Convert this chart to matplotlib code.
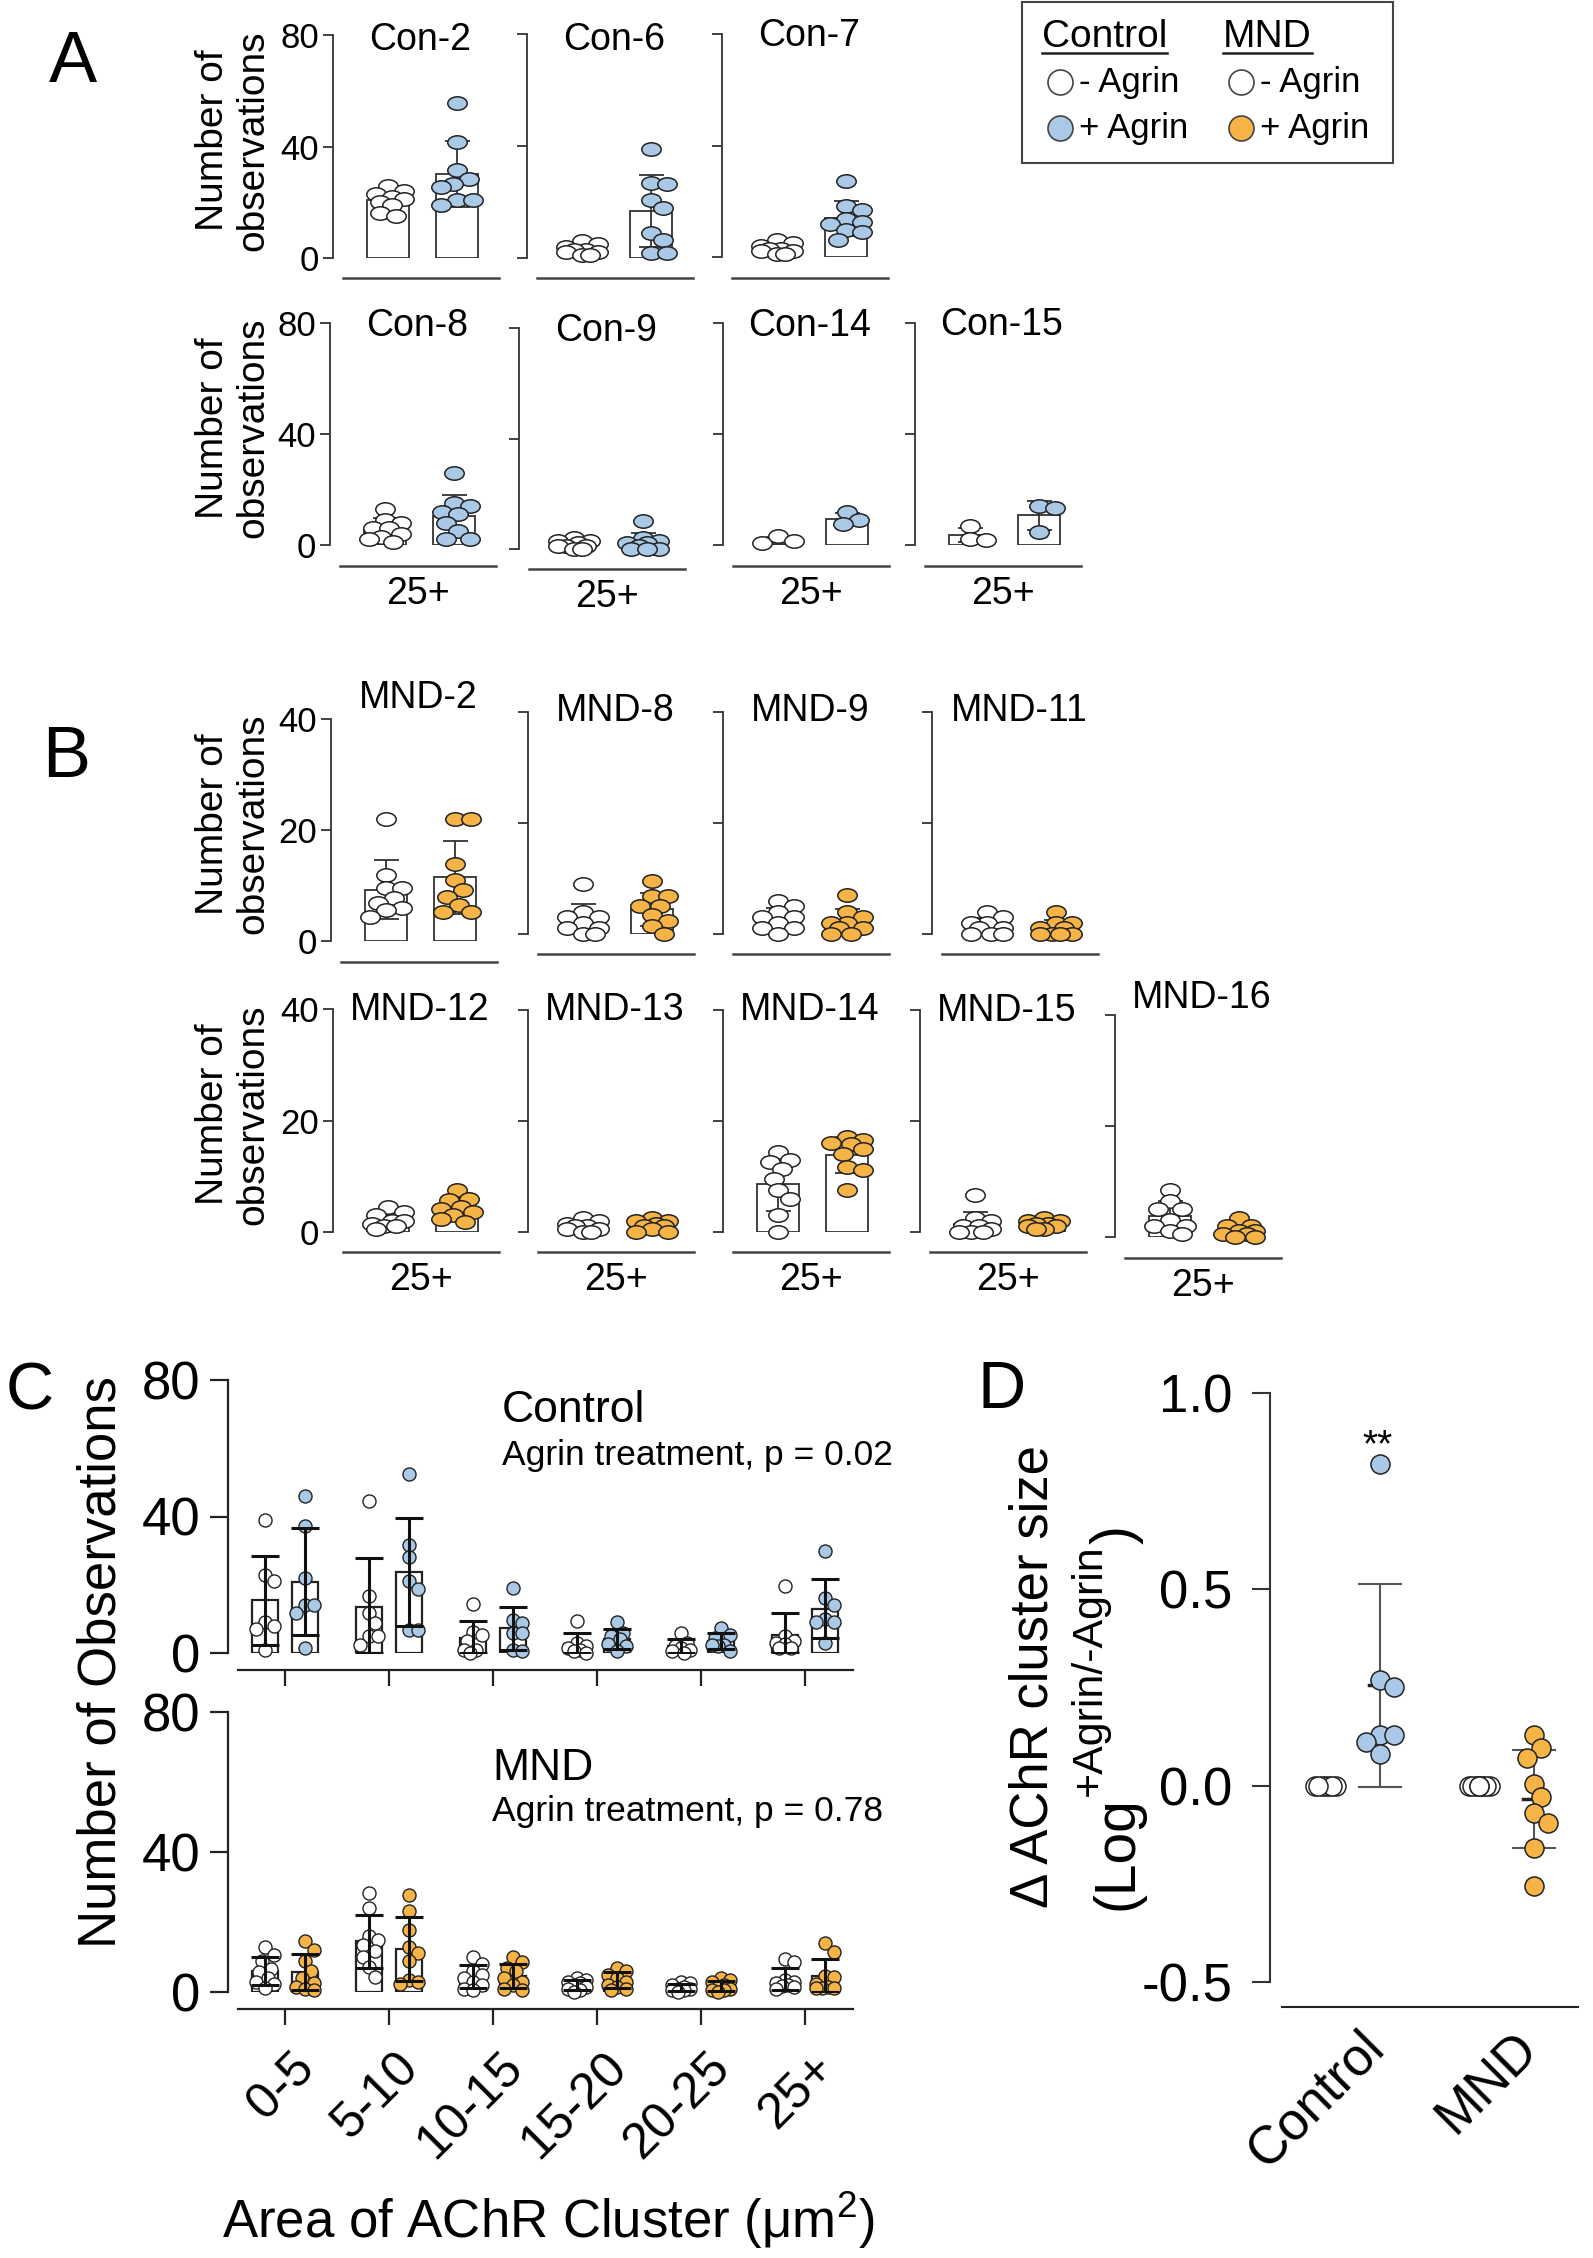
import numpy as np
import matplotlib
matplotlib.use('Agg')
import matplotlib.pyplot as plt
from matplotlib.patches import Rectangle
from matplotlib.path import Path
from matplotlib.transforms import ScaledTranslation, blended_transform_factory

plt.rcParams['font.family'] = ['Liberation Sans', 'DejaVu Sans']
plt.rcParams['mathtext.fontset'] = 'custom'
plt.rcParams['mathtext.rm'] = 'Liberation Sans'
plt.rcParams['mathtext.it'] = 'Liberation Sans:italic'

W, H = 1593, 2258

CON_AGRIN = '#a9c9e7'
MND_AGRIN = '#f7b446'
INK = '#222222'

# ---------------- A: control donors, 25+ bin ----------------
con_names = ['Con-2', 'Con-6', 'Con-7', 'Con-8', 'Con-9', 'Con-14', 'Con-15']
con_minus = [
    [26, 24, 23, 22, 21, 20, 19, 16, 15],
    [6, 5, 4, 3, 3, 2, 2, 1, 1],
    [6, 5, 4, 3, 3, 2, 2, 1, 1],
    [13, 9, 8, 6, 6, 4, 3, 2, 1],
    [4, 3, 3, 2, 1, 1, 1, 0, 0],
    [0.7, 3.1, 1.3],
    [6.7, 2.2, 1.9],
]
con_plus = [
    [55.7, 41.7, 31.7, 28.5, 26.7, 25.5, 20.7, 20.7, 19.0],
    [38.9, 26.9, 26.5, 20.7, 18.0, 9.0, 6.3, 1.8, 1.8],
    [27.1, 18.4, 16.8, 13.8, 12.6, 12.0, 9.6, 9.0, 6.0],
    [26, 15, 14, 12, 11, 8, 5, 2, 2],
    [10, 4, 3, 2, 2, 1, 0, 0, 0],
    [11.8, 9.1, 7.6],
    [13.9, 13.3, 4.7],
]

# ---------------- B: MND donors, 25+ bin ----------------
mnd_names = ['MND-2', 'MND-8', 'MND-9', 'MND-11', 'MND-12',
             'MND-13', 'MND-14', 'MND-15', 'MND-16']
mnd_minus = [
    [22, 11.9, 9.5, 9.5, 7.7, 6.8, 5.9, 5.6, 4.4],
    [9, 4, 3, 3, 2, 1, 1, 0, 0],
    [6, 5, 4, 3, 3, 2, 1, 1, 0],
    [4, 3, 2, 2, 1, 1, 0, 0, 0],
    [4.5, 3.5, 3, 2, 2, 1.5, 1, 1, 0.5],
    [2.5, 2, 1.5, 1, 1, 0.5, 0.5, 0, 0],
    [14.4, 12.9, 12.6, 11.4, 9.6, 7.5, 6, 3, 0],
    [6.6, 2.5, 2, 1, 1, 0.5, 0, 0, 0],
    [8.5, 6.5, 5, 5, 3, 2, 2, 1, 0.5],
]
mnd_plus = [
    [22, 22, 13.9, 11, 9.2, 8, 6.5, 5.3, 5.3],
    [9.5, 6.8, 6.8, 5, 5, 3.5, 2.3, 1.4, 0],
    [7, 4, 3, 2, 2, 1, 1, 0, 0],
    [4, 2, 2, 1, 1, 0, 0, 0, 0],
    [7.5, 6, 5.7, 4.5, 4.2, 3.5, 3, 2.4, 1.8],
    [2.5, 2, 2, 1.5, 1, 1, 0.5, 0, 0],
    [17.1, 16.5, 16, 15.9, 15, 14.1, 11.7, 11.1, 7.5],
    [2.5, 2, 2, 1.5, 1.5, 1, 1, 0.5, 0.5],
    [3.5, 2, 2, 1, 1, 0.5, 0.5, 0, 0],
]

# ---------------- C: donor means per cluster-size bin ----------------
bins = ['0-5', '5-10', '10-15', '15-20', '20-25', '25+']
ctrl_minus_bins = [
    [39, 23, 21, 9, 8, 7, 1],
    [44.4, 16.6, 11.7, 8.8, 5.1, 5.1, 2.4],
    [14.4, 6.3, 5.4, 3.4, 1, 1, 0],
    [9.5, 3, 2, 1.5, 1, 0.5, 0],
    [6, 3, 2, 1.5, 1, 0.5, 0],
    [19.5, 5, 3.5, 3, 2.5, 1.5, 1.5],
]
ctrl_plus_bins = [
    [46.1, 37.2, 21.9, 14.1, 14.1, 11.7, 1.5],
    [52.5, 31.7, 28.1, 21, 18.8, 6.8, 6.8],
    [19, 9.8, 8.8, 5.9, 5.9, 1, 0.5],
    [9, 6, 5, 4, 2.5, 2, 0.5],
    [7.3, 5.4, 4.4, 2.4, 2, 2.4, 0.5],
    [30, 16, 14, 10, 9, 9, 3],
]
mnd_minus_bins = [
    [12.8, 10.6, 8.9, 6.7, 5.6, 3.9, 2.8, 2.2, 1.1],
    [28.4, 23.9, 16.1, 15, 13.3, 11.7, 10, 7.2, 4.4],
    [10, 8, 6, 5, 4, 3, 2, 1, 0.5],
    [4, 3.5, 3, 2.5, 2, 1.5, 1, 0.5, 0],
    [3, 2.5, 2, 1.5, 1, 1, 0.5, 0.5, 0],
    [9.3, 8.6, 3.4, 2.8, 2.6, 2.1, 1.6, 1.4, 0.9],
]
mnd_plus_bins = [
    [14.5, 12, 9, 6, 4, 2.5, 1.5, 1, 0.5],
    [27.8, 23.1, 17.8, 12.8, 11.1, 8.9, 3.3, 2.8, 2.2],
    [10, 8.5, 7, 6, 4, 3, 2, 1, 0.5],
    [7, 6, 5, 4, 3, 2, 1.5, 1, 0.5],
    [4, 3.5, 3, 2, 1.5, 1, 0.5, 0.5, 0],
    [13.9, 11.5, 4.5, 4.3, 2.2, 1.3, 1.1, 1.1, 1.1],
]

# ---------------- D: log ratio of cluster size ----------------
d_groups = ['Control', 'MND']
d_ctrl_minus = [0, 0, 0, 0, 0, 0, 0]
d_ctrl_plus = [0.82, 0.27, 0.25, 0.13, 0.13, 0.11, 0.08]
d_mnd_minus = [0, 0, 0, 0, 0, 0, 0, 0, 0]
d_mnd_plus = [0.13, 0.095, 0.07, 0.005, -0.03, -0.07, -0.095, -0.16, -0.255]


fig = plt.figure(figsize=(W / 100, H / 100), dpi=100)
ov = fig.add_axes([0, 0, 1, 1])
ov.set_xlim(0, W)
ov.set_ylim(H, 0)
ov.axis('off')


def px_axes(left, top, right, bottom):
    ax = fig.add_axes([left / W, 1 - bottom / H, (right - left) / W, (bottom - top) / H])
    ax.patch.set_visible(False)
    return ax


def swarm(vals, px_per_val, wx, wy, maxw, step, sep=0.9):
    # compact beeswarm: offsets in pixels, never wider than +-maxw
    vals = np.asarray(vals, float)
    cands = [0.0]
    for k in range(1, int(maxw / step) + 1):
        cands += [step * k, -step * k]
    placed, offs = [], np.zeros(len(vals))
    for i in np.argsort(-vals, kind='stable'):
        y = vals[i] * px_per_val
        best, best_d = 0.0, -1.0
        for c in cands:
            d = min([((c - px) / wx) ** 2 + ((y - py) / wy) ** 2 for px, py in placed],
                    default=99.0)
            if d >= sep ** 2:
                best = c
                break
            if d > best_d:
                best, best_d = c, d
        offs[i] = best
        placed.append((best, y))
    return offs


_c = Path.unit_circle()
OVAL = Path(_c.vertices * np.array([1.45, 1.0]), _c.codes)

UNIT_AB = 69.0  # px between the two bars of a donor panel


def donor_panel(x0, y_top, y_zero, line_y, title_y, ymax, minus, plus, colour,
                title, first, lab25):
    ax = px_axes(x0, y_top, x0 + 172, y_zero)
    ax.set_xlim(-55 / UNIT_AB, 117 / UNIT_AB)
    ax.set_ylim(0, ymax)
    for s in ['top', 'right', 'bottom']:
        ax.spines[s].set_visible(False)
    ax.spines['left'].set_color('#333')
    ax.spines['left'].set_linewidth(1.3)
    ax.set_xticks([])
    ax.set_yticks([0, ymax / 2, ymax])
    ax.tick_params(axis='y', length=7, width=1.3, color='#333', labelsize=25, pad=3)
    if first:
        ax.set_yticklabels([str(int(v)) for v in [0, ymax / 2, ymax]])
    else:
        ax.set_yticklabels([])
    h = y_zero - y_top
    ppv = h / ymax
    for xi, vals, fc in [(0, minus, 'white'), (1, plus, colour)]:
        vals = np.asarray(vals, float)
        m, sd = vals.mean(), vals.std(ddof=1)
        ax.bar(xi, m, width=0.62, color='white', edgecolor='#333', lw=1.3, zorder=1)
        ax.errorbar(xi, m, yerr=[[min(sd, m)], [sd]], fmt='none', ecolor='#333',
                    elinewidth=1.3, capsize=9, capthick=1.3, zorder=2)
        offs = swarm(vals, ppv, 19, 13, maxw=16, step=4, sep=0.85) / UNIT_AB
        ax.plot(xi + offs, vals, marker=OVAL, ls='none', ms=14, mfc=fc, mec=INK,
                mew=1.1, zorder=3, clip_on=False)
    tr = blended_transform_factory(ax.transData, ax.transAxes)
    ly = -(line_y - y_zero) / h
    ax.plot([-45 / UNIT_AB, 111 / UNIT_AB], [ly, ly], transform=tr, color='#444',
            lw=1.8, clip_on=False)
    ax.text(32 / UNIT_AB, 1 + (y_top - title_y - 3) / h, title, transform=tr,
            ha='center', va='center', fontsize=27)
    if lab25:
        ax.text(33 / UNIT_AB, -(line_y + 28 - y_zero) / h, '25+', transform=tr,
                ha='center', va='center', fontsize=27)
    return ax


# rows of donor panels: x0, top tick, zero, separate baseline, title centre
rowA1 = dict(x0=[333, 527, 722], top=[35, 34, 34], zero=[258, 258, 257],
             line=[278, 278, 278], title=[37, 37, 33])
rowA2 = dict(x0=[330, 519, 723, 915], top=[323, 328, 323, 323],
             zero=[545, 549, 545, 545], line=[566, 569, 566, 566],
             title=[323, 328, 323, 322])
rowB1 = dict(x0=[331, 528, 723, 932], top=[719, 712, 712, 712],
             zero=[941, 934, 934, 934], line=[962, 954, 954, 954],
             title=[695, 708, 708, 708])
rowB2 = dict(x0=[333, 528, 723, 920, 1115], top=[1009, 1010, 1010, 1010, 1015],
             zero=[1232, 1232, 1232, 1232, 1237], line=[1252, 1252, 1252, 1252, 1258],
             title=[1007, 1007, 1007, 1008, 995])

panel_rows = [
    (rowA1, con_names[:3], con_minus[:3], con_plus[:3], CON_AGRIN, 80, False),
    (rowA2, con_names[3:], con_minus[3:], con_plus[3:], CON_AGRIN, 80, True),
    (rowB1, mnd_names[:4], mnd_minus[:4], mnd_plus[:4], MND_AGRIN, 40, False),
    (rowB2, mnd_names[4:], mnd_minus[4:], mnd_plus[4:], MND_AGRIN, 40, True),
]
for row, names, mins, plus, col, ymax, lab25 in panel_rows:
    for k, name in enumerate(names):
        donor_panel(row['x0'][k], row['top'][k], row['zero'][k], row['line'][k],
                    row['title'][k], ymax, mins[k], plus[k], col, name, k == 0, lab25)
    yc = (row['top'][0] + row['zero'][0]) / 2 - 6
    ov.text(233, yc, 'Number of\nobservations', rotation=90, ha='center', va='center',
            fontsize=28, linespacing=1.15)

# ---------------- panel C ----------------
UNIT_C = 104.0


def bin_panel(top, zero, minus_bins, plus_bins, colour, show_labels):
    ax = px_axes(228, top, 853, zero)
    ax.set_xlim(-57 / UNIT_C, 5 + 48 / UNIT_C)
    ax.set_ylim(0, 80)
    ax.spines['top'].set_visible(False)
    ax.spines['right'].set_visible(False)
    ax.spines['left'].set_bounds(0, 80)
    ax.spines['bottom'].set_position(('outward', 12))
    ax.spines['bottom'].set_bounds(-47 / UNIT_C, 5 + 48 / UNIT_C)
    for s in ['left', 'bottom']:
        ax.spines[s].set_linewidth(1.6)
        ax.spines[s].set_color(INK)
    ax.set_yticks([0, 40, 80])
    ax.set_xticks(range(len(bins)))
    ax.tick_params(axis='y', length=13, width=1.6, color=INK, labelsize=38, pad=7)
    ax.tick_params(axis='x', length=11.5, width=1.6, color=INK, labelsize=36, pad=14)
    if show_labels:
        ax.set_xticklabels(bins, rotation=45, ha='right', rotation_mode='anchor')
        for lbl in ax.get_xticklabels():
            lbl.set_transform(lbl.get_transform() + ScaledTranslation(0.06, 0, fig.dpi_scale_trans))
    else:
        ax.set_xticklabels([])
    ppv = (zero - top) / 80
    for i in range(len(bins)):
        for dx, vals, fc in [(-0.19, minus_bins[i], 'white'), (0.19, plus_bins[i], colour)]:
            vals = np.asarray(vals, float)
            m, sd = vals.mean(), vals.std(ddof=1)
            ax.bar(i + dx, m, width=0.25, color='white', edgecolor=INK, lw=1.6, zorder=1)
            offs = swarm(vals, ppv, 13, 13, maxw=10, step=3, sep=0.85) / UNIT_C
            ax.plot(i + dx + offs, vals, 'o', ms=9.4, mfc=fc, mec=INK, mew=1.0,
                    zorder=3, clip_on=False)
            ax.errorbar(i + dx, m, yerr=[[min(sd, m)], [sd]], fmt='none', ecolor='#111',
                        elinewidth=2.2, capsize=10, capthick=2.2, zorder=4)
    return ax


bin_panel(1380, 1653, ctrl_minus_bins, ctrl_plus_bins, CON_AGRIN, False)
bin_panel(1712, 1992, mnd_minus_bins, mnd_plus_bins, MND_AGRIN, True)

ov.text(502, 1422, 'Control', fontsize=32, va='baseline')
ov.text(502, 1465, 'Agrin treatment, p = 0.02', fontsize=25.5, va='baseline')
ov.text(492, 1780, 'MND', fontsize=32, va='baseline')
ov.text(492, 1821, 'Agrin treatment, p = 0.78', fontsize=25.5, va='baseline')
ov.text(102, 1662, 'Number of Observations', rotation=90, ha='center', va='center',
        fontsize=38)
ov.text(548, 2220, 'Area of AChR Cluster (μm$^{\\mathregular{2}}$)', ha='center',
        va='center', fontsize=38)

# ---------------- panel D ----------------
UNIT_D = 55.0
axd = px_axes(1270, 1393, 1578, 1982)
axd.set_xlim(-1.0, 4.6)
axd.set_ylim(-0.5, 1.0)
for s in ['top', 'right', 'bottom']:
    axd.spines[s].set_visible(False)
axd.spines['left'].set_bounds(-0.5, 1.0)
axd.spines['left'].set_linewidth(1.5)
axd.spines['left'].set_color('#333')
axd.set_yticks([-0.5, 0.0, 0.5, 1.0])
axd.set_yticklabels(['-0.5', '0.0', '0.5', '1.0'])
axd.tick_params(axis='y', length=13, width=1.5, color='#333', labelsize=38, pad=14)
d_pos = [0, 1, 2.8, 3.8]
axd.set_xticks([(d_pos[0] + d_pos[1]) / 2, (d_pos[2] + d_pos[3]) / 2])
axd.set_xticklabels(d_groups, rotation=45, ha='right', rotation_mode='anchor')
axd.tick_params(axis='x', length=0, labelsize=38, pad=29)
for lbl in axd.get_xticklabels():
    lbl.set_transform(lbl.get_transform() + ScaledTranslation(0.06, 0, fig.dpi_scale_trans))
trd = blended_transform_factory(axd.transData, axd.transAxes)
axd.plot([-0.78, 4.6], [-25 / 589, -25 / 589], transform=trd, color=INK, lw=1.5,
         clip_on=False)

ppv_d = 589 / 1.5
d_sets = [(d_ctrl_minus, 'white'), (d_ctrl_plus, CON_AGRIN),
          (d_mnd_minus, 'white'), (d_mnd_plus, MND_AGRIN)]
for x, (vals, fc) in zip(d_pos, d_sets):
    vals = np.asarray(vals, float)
    m, sd = vals.mean(), vals.std(ddof=1)
    if sd > 0:
        axd.errorbar(x, m, yerr=sd, fmt='none', ecolor='#555', elinewidth=1.5,
                     capsize=16, capthick=1.5, zorder=2)
    offs = swarm(vals, ppv_d, 19, 19, maxw=14 if sd > 0 else 11, step=3.5, sep=0.8) / UNIT_D
    axd.plot([x - 0.2, x + 0.2], [m, m], color=INK, lw=2.5, zorder=2)
    axd.plot(x + offs, vals, 'o', ms=13.7, mfc=fc, mec=INK, mew=1.1, zorder=3,
             clip_on=False)
ov.text(1378, 1456, '**', ha='center', va='baseline', fontsize=28)

# D y label
ov.text(1034, 1677, 'Δ AChR cluster size', rotation=90, ha='center', va='center',
        fontsize=38)
renderer = fig.canvas.get_renderer()
y_cur = 1910
for txt, size, xc in [('(Log', 41, 1117), ('+Agrin/-Agrin', 31, 1090), (')', 41, 1117)]:
    t = ov.text(xc, y_cur, txt, fontsize=size, rotation=90, ha='center', va='bottom')
    y_cur -= t.get_window_extent(renderer).height

# ---------------- legend ----------------
ov.add_patch(Rectangle((1022, 2), 371, 161, fill=False, ec='#444', lw=1.5))
for x, label in [(1042, 'Control'), (1223, 'MND')]:
    t = ov.text(x, 47, label, fontsize=28, va='baseline')
    wpx = t.get_window_extent(renderer).width
    ov.plot([x, x + wpx], [53, 53], color=INK, lw=1.8)
leg_rows = [(1060, 82, 'white', '- Agrin'), (1060, 128, CON_AGRIN, '+ Agrin'),
            (1241, 82, 'white', '- Agrin'), (1241, 128, MND_AGRIN, '+ Agrin')]
for x, y, fc, label in leg_rows:
    ov.plot(x, y, 'o', ms=18, mfc=fc, mec='#444', mew=1.2)
    ov.text(x + 19, y + 10, label, fontsize=25, va='baseline')

# panel letters
for letter, x, y, size in [('A', 73, 82, 52), ('B', 66, 777, 52),
                           ('C', 30, 1410, 48), ('D', 1002, 1408, 48)]:
    ov.text(x, y, letter, ha='center', va='baseline', fontsize=size)

fig.savefig('out.png', dpi=100)
